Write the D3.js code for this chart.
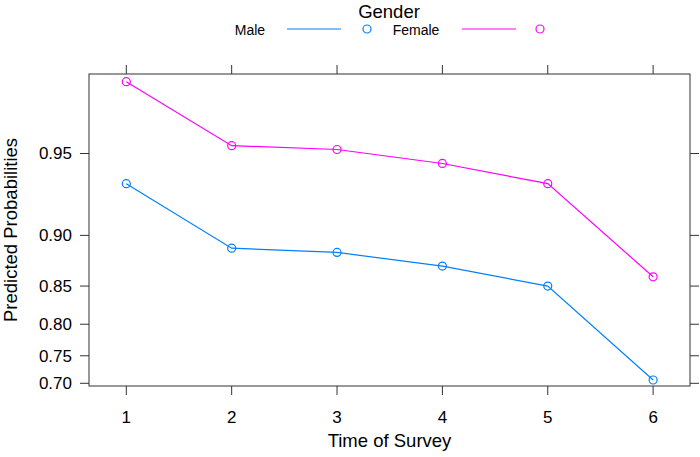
<!DOCTYPE html>
<html><head><meta charset="utf-8">
<script src="https://cdn.jsdelivr.net/npm/d3@7"></script>
<style>body{margin:0;background:#fff}svg{display:block}text{font-family:"Liberation Sans",Arial,sans-serif;fill:#000}</style>
</head><body><svg id="c" width="700" height="457"></svg>
<script>
const times = [1, 2, 3, 4, 5, 6];
const male = [0.9352, 0.889, 0.8851, 0.8718, 0.850, 0.7063];
const female = [0.9734, 0.9533, 0.9517, 0.9455, 0.9352, 0.8605];
const yTicks = [0.70, 0.75, 0.80, 0.85, 0.90, 0.95];
const seriesNames = ["Male", "Female"];
const seriesColors = ["#0080ff", "#ff00ff"];

const svg = d3.select("#c");
const L = 89, R = 690, T = 74, B = 386;
const logit = p => Math.log(p / (1 - p));
const x = d3.scaleLinear().domain([0.646, 6.35]).range([L, R]);
const yl = d3.scaleLinear().domain([0.8227, 3.670]).range([B, T]);
const y = p => yl(logit(p));

// frame
svg.append("rect").attr("x", L).attr("y", T).attr("width", R - L).attr("height", B - T)
  .attr("fill", "none").attr("stroke", "#333").attr("stroke-width", 1);

// ticks
const tk = svg.append("g").attr("stroke", "#333").attr("stroke-width", 1);
times.forEach(t => {
  tk.append("line").attr("x1", x(t)).attr("x2", x(t)).attr("y1", B).attr("y2", B + 9);
  tk.append("line").attr("x1", x(t)).attr("x2", x(t)).attr("y1", T).attr("y2", T - 9);
});
yTicks.forEach(p => {
  tk.append("line").attr("x1", L).attr("x2", L - 9).attr("y1", y(p)).attr("y2", y(p));
  tk.append("line").attr("x1", R).attr("x2", R + 9).attr("y1", y(p)).attr("y2", y(p));
});
svg.append("g").selectAll("text").data(times).join("text")
  .attr("x", d => x(d)).attr("y", 417).attr("dy", "0.35em").attr("text-anchor", "middle")
  .attr("font-size", 17).text(d => d);
svg.append("g").selectAll("text").data(yTicks).join("text")
  .attr("x", 72).attr("y", d => y(d)).attr("dy", "0.35em").attr("text-anchor", "end")
  .attr("font-size", 17).text(d => d.toFixed(2));

svg.append("text").attr("x", (L + R) / 2).attr("y", 441).attr("dy", "0.35em").attr("text-anchor", "middle")
  .attr("font-size", 18.5).text("Time of Survey");
svg.append("text").attr("transform", `translate(17,${(T + B) / 2}) rotate(-90)`)
  .attr("text-anchor", "middle").attr("font-size", 18.5).text("Predicted Probabilities");

// series
const line = d3.line().x((d, i) => x(times[i])).y(d => y(d));
[male, female].forEach((s, k) => {
  svg.append("path").datum(s).attr("d", line).attr("fill", "none")
    .attr("stroke", seriesColors[k]).attr("stroke-width", 1.2);
  svg.append("g").selectAll("circle").data(s).join("circle")
    .attr("cx", (d, i) => x(times[i])).attr("cy", d => y(d)).attr("r", 4)
    .attr("fill", "none").attr("stroke", seriesColors[k]).attr("stroke-width", 1.2);
});

// legend
svg.append("text").attr("x", 389).attr("y", 12).attr("dy", "0.35em").attr("text-anchor", "middle")
  .attr("font-size", 18.5).text("Gender");
const lg = [{tx: 250, l1: 287, l2: 341, cx: 367}, {tx: 416, l1: 462, l2: 516, cx: 540}];
lg.forEach((g, k) => {
  svg.append("text").attr("x", g.tx).attr("y", 30).attr("dy", "0.35em").attr("text-anchor", "middle")
    .attr("font-size", 14).text(seriesNames[k]);
  svg.append("line").attr("x1", g.l1).attr("x2", g.l2).attr("y1", 29).attr("y2", 29)
    .attr("stroke", seriesColors[k]).attr("stroke-width", 1.2);
  svg.append("circle").attr("cx", g.cx).attr("cy", 29).attr("r", 4).attr("fill", "none")
    .attr("stroke", seriesColors[k]).attr("stroke-width", 1.2);
});
</script></body></html>
